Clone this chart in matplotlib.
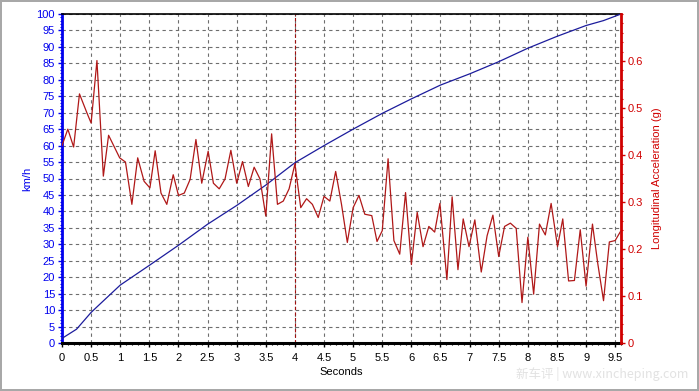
import matplotlib
matplotlib.use("Agg")
import matplotlib.pyplot as plt
from matplotlib.ticker import MultipleLocator, FixedLocator

plt.rcParams['font.family'] = ['Liberation Sans', 'DejaVu Sans']

# Speed (km/h) vs time (s)
speed_t = [0.0, 0.25, 0.5, 0.65, 1.0, 1.5, 2.0, 2.5, 3.0, 3.5, 4.0, 4.5,
           5.0, 5.5, 6.0, 6.5, 7.0, 7.5, 8.0, 8.5, 9.0, 9.3, 9.6]
speed_kmh = [1.4, 4.2, 9.3, 11.8, 17.6, 23.6, 29.7, 36.1, 41.8, 48.0, 54.8, 60.0,
             65.0, 69.8, 74.2, 78.4, 81.8, 85.5, 89.6, 93.2, 96.5, 98.0, 100.0]

# Longitudinal acceleration (g) vs time (s)
acc_t = [0.0, 0.1, 0.2, 0.3, 0.43, 0.5, 0.6, 0.71, 0.8, 0.99, 1.09, 1.2, 1.3,
         1.41, 1.51, 1.6, 1.7, 1.8, 1.91, 2.0, 2.1, 2.2, 2.3, 2.4, 2.51, 2.6,
         2.7, 2.8, 2.9, 3.0, 3.1, 3.2, 3.3, 3.4, 3.5, 3.6, 3.7, 3.8, 3.9, 4.0,
         4.1, 4.2, 4.3, 4.4, 4.5, 4.6, 4.7, 4.8, 4.9, 5.0, 5.1, 5.2, 5.32, 5.41,
         5.5, 5.6, 5.7, 5.8, 5.9, 6.0, 6.1, 6.2, 6.3, 6.4, 6.49, 6.61, 6.7, 6.8,
         6.89, 6.99, 7.09, 7.2, 7.3, 7.4, 7.5, 7.6, 7.7, 7.8, 7.9, 8.0, 8.1, 8.2,
         8.3, 8.4, 8.51, 8.6, 8.7, 8.8, 8.9, 9.0, 9.11, 9.2, 9.3, 9.4, 9.5, 9.59]
acc_g = [0.420, 0.455, 0.417, 0.530, 0.489, 0.468, 0.601, 0.355, 0.442, 0.394,
         0.385, 0.295, 0.394, 0.344, 0.330, 0.409, 0.319, 0.295, 0.358, 0.314,
         0.319, 0.348, 0.433, 0.340, 0.408, 0.340, 0.328, 0.349, 0.410, 0.340,
         0.386, 0.333, 0.374, 0.349, 0.270, 0.445, 0.295, 0.302, 0.328, 0.381,
         0.288, 0.307, 0.295, 0.267, 0.312, 0.302, 0.365, 0.295, 0.214, 0.288,
         0.314, 0.274, 0.271, 0.216, 0.239, 0.392, 0.218, 0.189, 0.320, 0.167,
         0.278, 0.205, 0.248, 0.236, 0.297, 0.135, 0.311, 0.156, 0.264, 0.205,
         0.262, 0.151, 0.228, 0.272, 0.184, 0.248, 0.255, 0.244, 0.086, 0.225,
         0.104, 0.253, 0.230, 0.297, 0.205, 0.264, 0.132, 0.133, 0.241, 0.121,
         0.253, 0.170, 0.090, 0.215, 0.218, 0.237]

x_ticks = [0, 0.5, 1, 1.5, 2, 2.5, 3, 3.5, 4, 4.5, 5, 5.5, 6, 6.5, 7, 7.5, 8, 8.5, 9, 9.5]
x_labels = ['0', '0.5', '1', '1.5', '2', '2.5', '3', '3.5', '4', '4.5', '5', '5.5',
            '6', '6.5', '7', '7.5', '8', '8.5', '9', '9.5']
left_ticks = list(range(0, 101, 5))
right_ticks = [0, 0.1, 0.2, 0.3, 0.4, 0.5, 0.6]
right_labels = ['0', '0.1', '0.2', '0.3', '0.4', '0.5', '0.6']
marker_time = 4.0

BLUE_AX = '#0000ee'
BLUE_LINE = '#1c1c9c'
RED_AX = '#d00000'
RED_LINE = '#b01818'

fig = plt.figure(figsize=(6.99, 3.91), dpi=100)
fig.patch.set_facecolor('white')
fig.patch.set_edgecolor('#a8a8a8')
fig.patch.set_linewidth(1.5)

ax = fig.add_axes([62/699, 1-343/391, (621-62)/699, (343-14)/391])
ax.set_xlim(0, 9.6)
ax.set_ylim(0, 100)

ax.set_xticks(x_ticks)
ax.set_xticklabels(x_labels)
ax.xaxis.set_minor_locator(MultipleLocator(0.1))
ax.set_yticks(left_ticks)
ax.yaxis.set_minor_locator(MultipleLocator(1))

ax.grid(True, which='major', color='#6e6e6e', linestyle=(0, (3, 3)), linewidth=0.8)
ax.set_axisbelow(True)
ax.axvline(marker_time, color='#a01010', linestyle=(0, (3, 2)), linewidth=0.8, zorder=1.5)

ax.plot(speed_t, speed_kmh, color=BLUE_LINE, linewidth=0.9, zorder=3)

ax.spines['left'].set_color(BLUE_AX)
ax.spines['left'].set_linewidth(2)
ax.spines['bottom'].set_color('black')
ax.spines['bottom'].set_linewidth(2.2)
ax.spines['top'].set_color('black')
ax.spines['top'].set_linewidth(1.2)
ax.spines['right'].set_visible(False)

ax.tick_params(axis='y', which='major', colors=BLUE_AX, labelsize=8, length=3, width=1, pad=2)
ax.tick_params(axis='y', which='minor', colors=BLUE_AX, length=1.5, width=0.8)
ax.tick_params(axis='x', which='major', colors='black', labelsize=8, length=3, width=1, pad=4)
ax.tick_params(axis='x', which='minor', colors='black', length=1.5, width=0.8)
ax.set_ylabel('km/h', color=BLUE_AX, fontsize=8, labelpad=3)
ax.set_xlabel('Seconds', color='black', fontsize=8, labelpad=3)

ax2 = ax.twinx()
ax2.set_ylim(0, 0.7)
ax2.plot(acc_t, acc_g, color=RED_LINE, linewidth=0.9, zorder=3)
ax2.yaxis.set_major_locator(FixedLocator(right_ticks))
ax2.set_yticklabels(right_labels)
ax2.yaxis.set_minor_locator(MultipleLocator(0.02))
for s in ['left', 'top', 'bottom']:
    ax2.spines[s].set_visible(False)
ax2.spines['right'].set_color(RED_AX)
ax2.spines['right'].set_linewidth(2)
ax2.tick_params(axis='y', which='major', colors=RED_AX, labelsize=8, length=3, width=1, pad=2)
ax2.tick_params(axis='y', which='minor', colors=RED_AX, length=1.5, width=0.8)
ax2.set_ylabel('Longitudinal Acceleration (g)', color=RED_AX, fontsize=8, labelpad=6)

fig.text(0.985, 0.025, '新车评 | www.xincheping.com', ha='right', va='bottom',
         fontsize=9, color='#e2e2e2',
         family=['Noto Sans CJK SC', 'DejaVu Sans'])

fig.savefig('out.png', dpi=100)
